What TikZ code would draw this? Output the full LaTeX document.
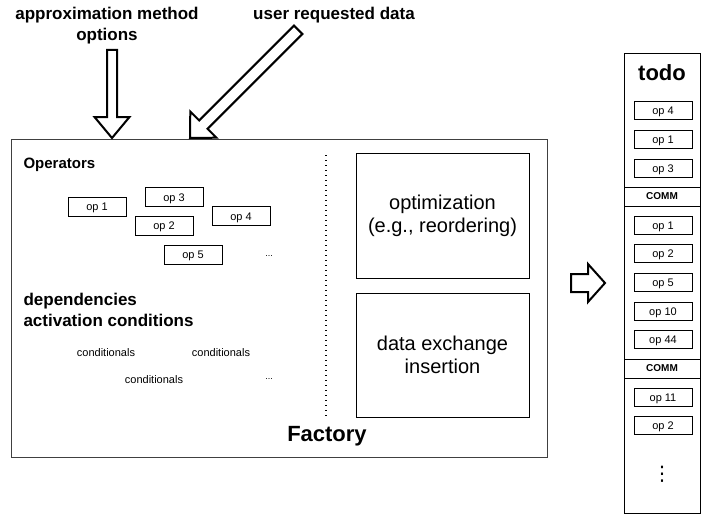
\documentclass[tikz,border=0pt]{standalone}
\usepackage{fontspec}
\setmainfont{Liberation Sans}
\newfontfamily\dejavu{DejaVu Sans}
\newcommand\fsz[2]{\fontsize{#1}{#2}\selectfont}
\begin{document}
\begin{tikzpicture}[x=1pt,y=-1pt,
  opbox/.style={draw, line width=0.8pt, minimum width=58pt, minimum height=19pt, inner sep=0pt, text height=8pt, text depth=0pt, font=\fsz{11}{13}},
  colop/.style={draw, line width=0.8pt, minimum width=58pt, minimum height=18pt, inner sep=0pt, text height=8pt, text depth=0pt, font=\fsz{11}{13}},
  commbox/.style={draw, line width=0.8pt, minimum width=76pt, minimum height=19pt, inner sep=0pt, font=\fsz{10}{12}\bfseries},
  bigbox/.style={draw, line width=0.8pt, inner sep=0pt, align=center, font=\fsz{20}{23}},
  blockarrow/.style={draw, line width=2pt, fill=white, line join=miter},
  small/.style={font=\fsz{11}{13}},
  head/.style={font=\fsz{17}{21}\bfseries, align=center},
]
\useasboundingbox (0,0) rectangle (702,519);

% factory frame
\node[draw=black!75, line width=0.9pt, minimum width=536pt, minimum height=318pt, inner sep=0pt, anchor=north west] (factory) at (11,139) {};
\node[font=\fsz{22}{26}\bfseries] (factorylabel) at (327,436) {Factory};

% dotted separator
\coordinate (dtop) at (326,155);
\coordinate (dbot) at (326,416);
\draw[line width=1.4pt, dash pattern=on 1.4pt off 3.6pt] (dtop) -- (dbot);

% operators
\node[font=\fsz{15}{18}\bfseries, anchor=west] (operators) at (20,165) {Operators};
\node[opbox] (op1) at (97,206.5) {op 1};
\node[opbox] (op3) at (174,197) {op 3};
\node[opbox] (op2) at (164,225.5) {op 2};
\node[opbox] (op4) at (241,216) {op 4};
\node[opbox] (op5) at (193,254.5) {op 5};
\node[font=\fsz{9}{11}] (opdots) at (269,256) {...};

% dependencies
\node[head, anchor=west, align=left] (deps) at (20,310) {dependencies\\activation conditions};
\node[small] (cond1) at (106,353) {conditionals};
\node[small] (cond2) at (221,353) {conditionals};
\node[small] (cond3) at (154,380) {conditionals};
\node[font=\fsz{9}{11}] (conddots) at (269,379) {...};

% right boxes
\node[bigbox, minimum width=173pt, minimum height=125pt] (optim) at (442.5,215.5) {optimization\\(e.g., reordering)};
\node[bigbox, minimum width=173pt, minimum height=124pt] (dex) at (442.5,355) {data exchange\\insertion};

% top labels
\node[head] (amo) at (107,26) {approximation method\\options};
\node[head] (urd) at (334,15) {user requested data};

% block arrows
\coordinate (tipA) at (112,138);
\draw[blockarrow] (tipA) -- (129.5,117) -- (117,117) -- (117,50) -- (107,50) -- (107,117) -- (94.5,117) -- cycle;
\coordinate (tipB) at (190,138);
\draw[blockarrow] (tipB) -- (216.5,137.7) -- (207.6,128.8) -- (302.4,34.0) -- (294.0,25.6) -- (199.2,120.4) -- (190.3,111.5) -- cycle;
\coordinate (tipC) at (605,283);
\draw[blockarrow] (tipC) -- (588,264) -- (588,274) -- (571,274) -- (571,292) -- (588,292) -- (588,302) -- cycle;

% todo column
\node[draw, line width=0.8pt, minimum width=76pt, minimum height=460pt, inner sep=0pt, anchor=north west] (todo) at (624,53) {};
\node[font=\fsz{22}{26}\bfseries] (todolabel) at (662,73) {todo};
\foreach \t/\y [count=\i] in {op 4/110, op 1/139, op 3/168, op 1/225, op 2/253, op 5/282, op 10/311, op 44/339, op 11/397, op 2/425}
  \node[colop] (c\i) at (663,\y) {\t};
\node[commbox] (comm1) at (662,196.5) {COMM};
\node[commbox] (comm2) at (662,368.5) {COMM};
\node[font=\dejavu\fsz{20}{20}] (vd) at (662,474) {⋮};
\end{tikzpicture}
\end{document}
